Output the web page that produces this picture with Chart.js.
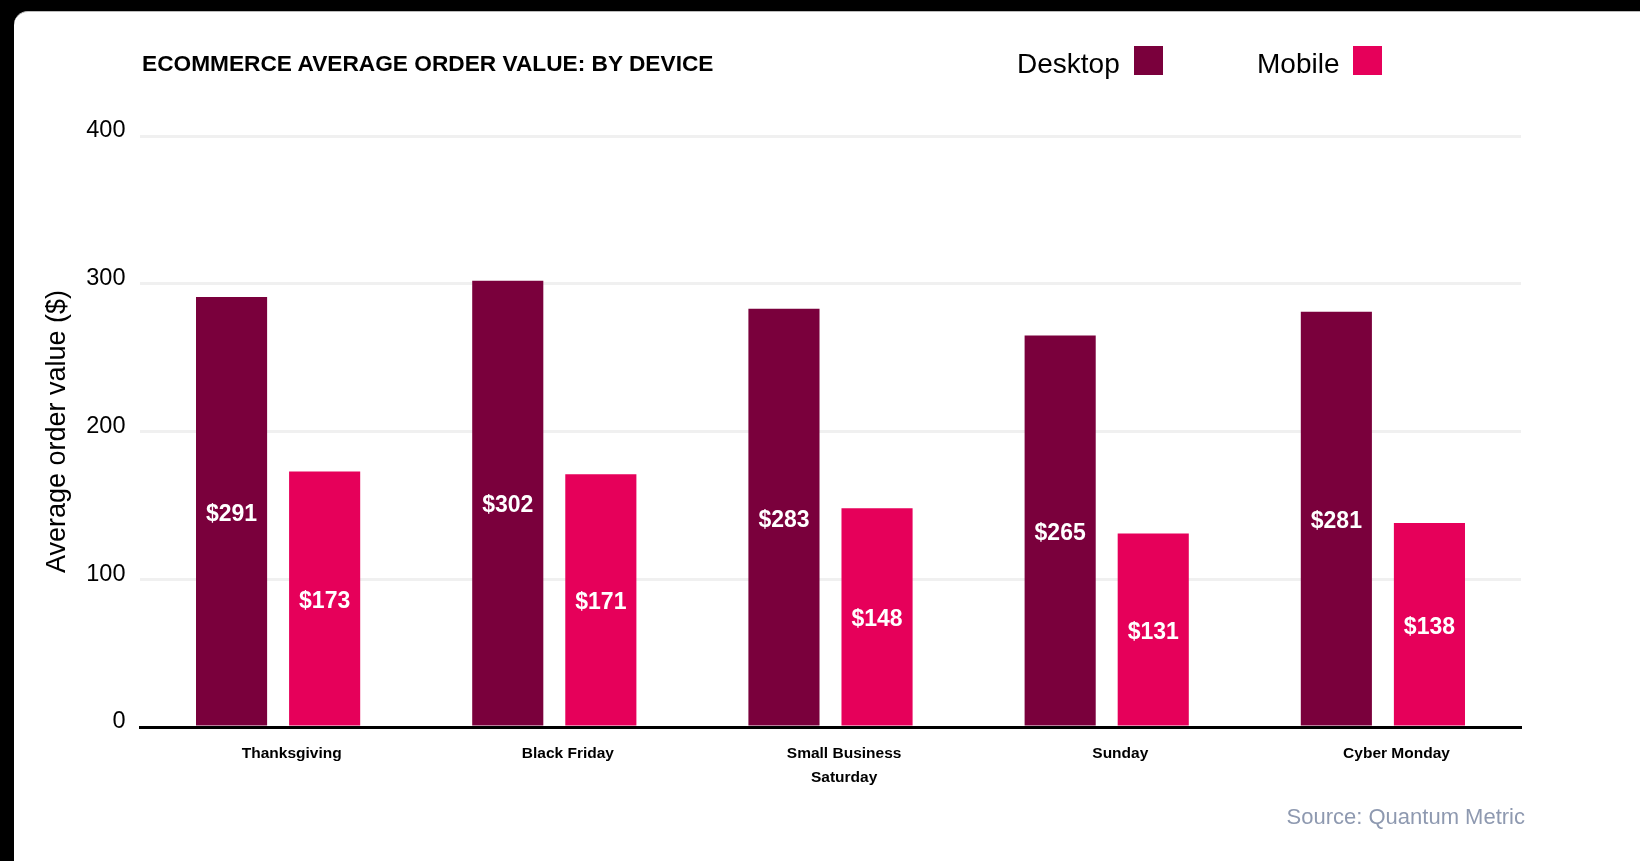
<!DOCTYPE html>
<html>
<head>
<meta charset="utf-8">
<title>Ecommerce average order value by device</title>
<script src="https://cdn.jsdelivr.net/npm/chart.js@4.4.1/dist/chart.umd.min.js"></script>
<style>
    html, body {
        margin: 0;
        padding: 0;
        background: #000;
        width: 1640px;
        height: 861px;
        overflow: hidden;
        font-family: "Liberation Sans", Arial, sans-serif;
    }
    .card {
        position: absolute;
        left: 14px;
        top: 11px;
        width: 1640px;
        height: 880px;
        background: #fff;
        border-radius: 14px;
        border-top: 1px solid #bbb;
    }
    #chart-wrap {
        position: absolute;
        left: 0;
        top: 0;
        width: 1640px;
        height: 861px;
    }
    .title {
        position: absolute;
        left: 142px;
        top: 50px;
        font-size: 22.7px;
        font-weight: bold;
        color: #000;
        white-space: nowrap;
    }
    .legend {
        position: absolute;
        top: 46px;
        height: 29px;
        display: flex;
        align-items: center;
        font-size: 28px;
        color: #000;
        white-space: nowrap;
    }
    .legend .txt {
        position: relative;
        top: 3px;
    }
    .legend .box {
        display: inline-block;
        width: 29px;
        height: 29px;
        margin-left: 14px;
    }
    .source {
        position: absolute;
        right: 115px;
        top: 804px;
        font-size: 22px;
        color: #8e99b0;
        white-space: nowrap;
    }
</style>
</head>
<body>
<div class="card"></div>
<div id="chart-wrap"><canvas id="aovChart" width="1640" height="861"></canvas></div>
<div class="title">ECOMMERCE AVERAGE ORDER VALUE: BY DEVICE</div>
<div id="legend"></div>
<div class="source">Source: Quantum Metric</div>

<script>
// Shopping days along the x axis
const days = ['Thanksgiving', 'Black Friday', ['Small Business', 'Saturday'], 'Sunday', 'Cyber Monday'];

// Average order value in dollars
const desktopValues = [291, 302, 283, 265, 281];
const mobileValues = [173, 171, 148, 131, 138];

// Y axis ticks
const yTicks = [0, 100, 200, 300, 400];

const desktopColor = '#7a003c';
const mobileColor = '#e6005a';

document.addEventListener('DOMContentLoaded', function() {
    if (typeof Chart === 'undefined') {
        console.error('Chart.js is not loaded.');
        return;
    }

    // Dollar labels centred inside each bar
    const barValueLabels = {
        id: 'barValueLabels',
        afterDatasetsDraw(chart) {
            const ctx = chart.ctx;
            ctx.save();
            ctx.fillStyle = '#fff';
            ctx.font = 'bold 23px "Liberation Sans", Arial, sans-serif';
            ctx.textAlign = 'center';
            ctx.textBaseline = 'middle';
            chart.data.datasets.forEach((ds, i) => {
                chart.getDatasetMeta(i).data.forEach((bar, j) => {
                    const mid = (bar.y + bar.base) / 2 + 3;
                    ctx.fillText('$' + ds.data[j], bar.x, mid);
                });
            });
            ctx.restore();
        }
    };

    const ctx = document.getElementById('aovChart').getContext('2d');
    const chart = new Chart(ctx, {
        type: 'bar',
        data: {
            labels: days,
            datasets: [{
                label: 'Desktop',
                data: desktopValues,
                backgroundColor: desktopColor,
                categoryPercentage: 0.674,
                barPercentage: 0.764
            }, {
                label: 'Mobile',
                data: mobileValues,
                backgroundColor: mobileColor,
                categoryPercentage: 0.674,
                barPercentage: 0.764
            }]
        },
        options: {
            responsive: false,
            animation: false,
            layout: {
                padding: { left: 26, right: 119, top: 136, bottom: 64 }
            },
            plugins: {
                legend: { display: false },
                title: { display: false },
                tooltip: { enabled: false }
            },
            scales: {
                x: {
                    afterFit: function(scale) { scale.height = 70; },
                    grid: { display: false, drawTicks: false },
                    border: { display: true, color: '#000', width: 3 },
                    ticks: {
                        color: '#000',
                        padding: 15,
                        labelOffset: 13.6,
                        font: { family: '"Liberation Sans", Arial, sans-serif', size: 15.5, weight: 'bold', lineHeight: 1.55 }
                    }
                },
                y: {
                    min: yTicks[0],
                    max: yTicks[yTicks.length - 1],
                    afterFit: function(scale) { scale.width = 114; },
                    afterBuildTicks: function(scale) {
                        scale.ticks = yTicks.map(v => ({ value: v }));
                    },
                    grid: { color: '#f0f0f0', lineWidth: 3, drawTicks: false },
                    border: { display: false },
                    ticks: {
                        color: '#000',
                        padding: 14.5,
                        labelOffset: -5,
                        font: { family: '"Liberation Sans", Arial, sans-serif', size: 23.5 }
                    },
                    title: {
                        display: true,
                        text: 'Average order value ($)',
                        color: '#000',
                        padding: { top: 15 },
                        font: { family: '"Liberation Sans", Arial, sans-serif', size: 27 }
                    }
                }
            }
        },
        plugins: [barValueLabels]
    });

    // Legend built from the datasets: text first, swatch after
    const legendEl = document.getElementById('legend');
    const legendLeft = [1017, 1257];
    chart.data.datasets.forEach((ds, i) => {
        const item = document.createElement('div');
        item.className = 'legend';
        item.style.left = legendLeft[i] + 'px';
        item.innerHTML = `<span class="txt">${ds.label}</span><span class="box" style="background:${ds.backgroundColor}"></span>`;
        legendEl.appendChild(item);
    });
});
</script>
</body>
</html>
